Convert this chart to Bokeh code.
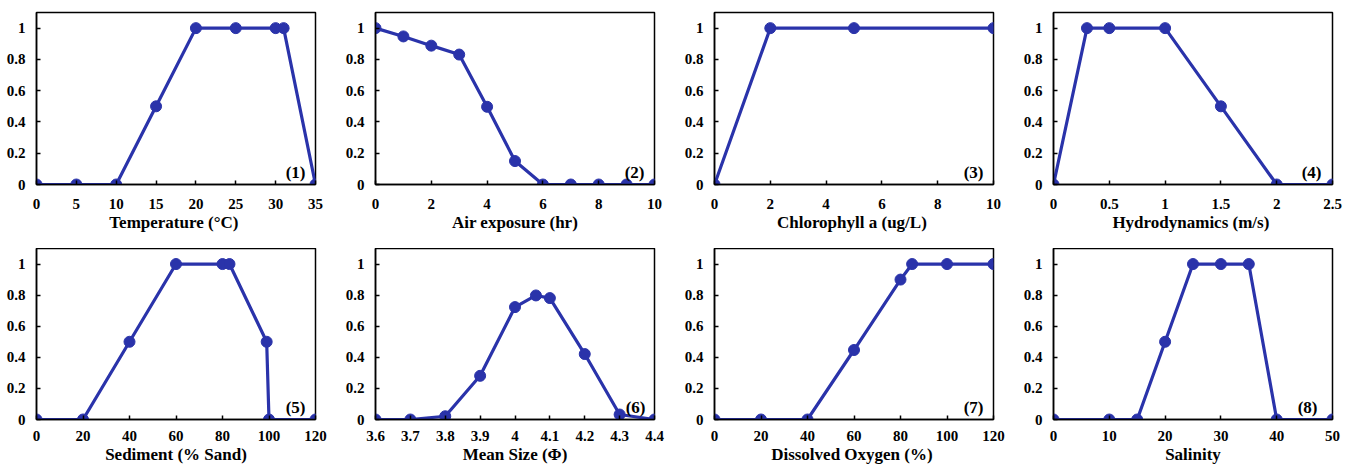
from bokeh.plotting import figure
from bokeh.layouts import column, row
from bokeh.models import FixedTicker, Range1d, Label
from bokeh.embed import file_html
from bokeh.resources import INLINE

# ---- data ----
temp_x = [0, 5, 10, 15, 20, 25, 30, 31, 35]
temp_y = [0, 0, 0, 0.5, 1, 1, 1, 1, 0]

air_x = [0, 1, 2, 3, 4, 5, 6, 7, 8, 9, 10]
air_y = [1, 0.947, 0.888, 0.831, 0.497, 0.15, 0, 0, 0, 0, 0]

chl_x = [0, 2, 5, 10]
chl_y = [0, 1, 1, 1]

hyd_x = [0, 0.3, 0.5, 1, 1.5, 2, 2.5]
hyd_y = [0, 1, 1, 1, 0.5, 0, 0]

sed_x = [0, 20, 40, 60, 80, 83, 99, 100, 120]
sed_y = [0, 0, 0.5, 1, 1, 1, 0.5, 0, 0]

ms_x = [3.6, 3.7, 3.8, 3.9, 4.0, 4.06, 4.1, 4.2, 4.3, 4.4]
ms_y = [0, 0, 0.021, 0.281, 0.723, 0.798, 0.781, 0.421, 0.032, 0]

do_x = [0, 20, 40, 60, 80, 85, 100, 120]
do_y = [0, 0, 0, 0.447, 0.9, 1, 1, 1]

sal_x = [0, 10, 15, 20, 25, 30, 35, 40, 50]
sal_y = [0, 0, 0, 0.5, 1, 1, 1, 0, 0]

titles = ["Temperature  (\u00b0C)", "Air exposure (hr)", "Chlorophyll  a (ug/L)",
          "Hydrodynamics  (m/s)", "Sediment (% Sand)", "Mean Size (\u03a6)",
          "Dissolved  Oxygen (%)", "Salinity"]
panel_tags = ["(1)", "(2)", "(3)", "(4)", "(5)", "(6)", "(7)", "(8)"]

x_ticks = [
    [0, 5, 10, 15, 20, 25, 30, 35],
    [0, 2, 4, 6, 8, 10],
    [0, 2, 4, 6, 8, 10],
    [0, 0.5, 1, 1.5, 2, 2.5],
    [0, 20, 40, 60, 80, 100, 120],
    [3.6, 3.7, 3.8, 3.9, 4.0, 4.1, 4.2, 4.3, 4.4],
    [0, 20, 40, 60, 80, 100, 120],
    [0, 10, 20, 30, 40, 50],
]
x_tick_labels = [
    ["0", "5", "10", "15", "20", "25", "30", "35"],
    ["0", "2", "4", "6", "8", "10"],
    ["0", "2", "4", "6", "8", "10"],
    ["0", "0.5", "1", "1.5", "2", "2.5"],
    ["0", "20", "40", "60", "80", "100", "120"],
    ["3.6", "3.7", "3.8", "3.9", "4", "4.1", "4.2", "4.3", "4.4"],
    ["0", "20", "40", "60", "80", "100", "120"],
    ["0", "10", "20", "30", "40", "50"],
]
y_ticks = [0, 0.2, 0.4, 0.6, 0.8, 1]
y_tick_labels = ["0", "0.2", "0.4", "0.6", "0.8", "1"]

series = [(temp_x, temp_y), (air_x, air_y), (chl_x, chl_y), (hyd_x, hyd_y),
          (sed_x, sed_y), (ms_x, ms_y), (do_x, do_y), (sal_x, sal_y)]

# ---- style ----
FONT = "Liberation Serif"
BLUE = "#2A33AA"
FIG_W = 339
ROW_H = [248, 218]
TOP_B = [12, 0]
BOT_B = [64, 47]
X_STANDOFF = [14, 11]
TAG_RIGHT_PX = [10, 10, 10, 11, 10, 9, 10, 15]
FRAME_W = 279.0


def make_panel(i):
    r = i // 4
    xs, ys = series[i]
    ticks = x_ticks[i]
    xmin, xmax = ticks[0], ticks[-1]
    p = figure(width=FIG_W, height=ROW_H[r], output_backend="svg", toolbar_location=None,
               x_range=Range1d(xmin, xmax), y_range=Range1d(0, 1.1),
               min_border_left=36, min_border_right=24,
               min_border_top=TOP_B[r], min_border_bottom=BOT_B[r])
    p.grid.visible = False
    p.outline_line_color = "black"
    p.outline_line_width = 1.5
    p.background_fill_color = "white"
    p.border_fill_color = "white"

    p.line(xs, ys, line_color=BLUE, line_width=3.2)
    p.scatter(xs, ys, size=11, fill_color=BLUE, line_color=BLUE)

    xa = p.xaxis[0]
    xa.ticker = FixedTicker(ticks=ticks)
    xa.major_label_overrides = {t: l for t, l in zip(ticks, x_tick_labels[i])}
    ya = p.yaxis[0]
    ya.ticker = FixedTicker(ticks=y_ticks)
    ya.major_label_overrides = {t: l for t, l in zip(y_ticks, y_tick_labels)}
    for ax in (xa, ya):
        ax.axis_line_color = "black"
        ax.axis_line_width = 1.5
        ax.major_tick_in = 4
        ax.major_tick_out = 0
        ax.major_tick_line_color = "black"
        ax.major_tick_line_width = 1.5
        ax.minor_tick_line_color = None
        ax.major_label_text_font = FONT
        ax.major_label_text_font_style = "bold"
        ax.major_label_text_font_size = "15px"
        ax.major_label_text_color = "black"
    xa.major_label_standoff = X_STANDOFF[r]
    ya.major_label_standoff = 11
    xa.axis_label = titles[i]
    xa.axis_label_text_font = FONT
    xa.axis_label_text_font_style = "bold"
    xa.axis_label_text_font_size = "17px"
    xa.axis_label_text_color = "black"
    xa.axis_label_standoff = 1

    # panel tag, lower right inside frame
    tx = xmax - TAG_RIGHT_PX[i] / FRAME_W * (xmax - xmin)
    p.add_layout(Label(x=tx, y=0.075, text=panel_tags[i], text_align="right",
                       text_baseline="middle", text_font=FONT, text_font_style="bold",
                       text_font_size="17px", text_color="black"))
    return p


panels = [make_panel(i) for i in range(8)]

layout = column(row(*panels[:4]), row(*panels[4:]))

open("out.html", "w").write(file_html(layout, INLINE))
